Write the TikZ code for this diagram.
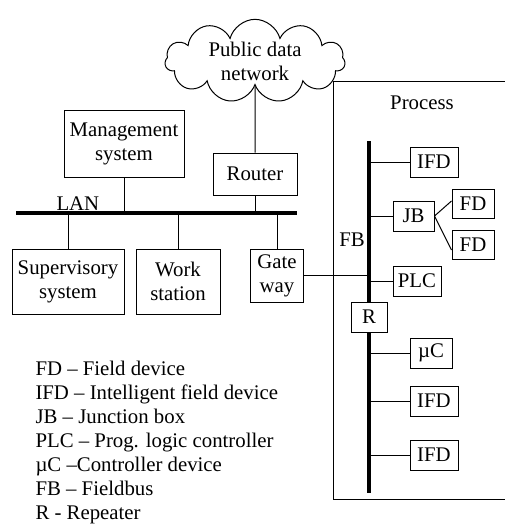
\documentclass[tikz,border=0pt]{standalone}
\usepackage{fontspec}
\setmainfont{Liberation Serif}
\usetikzlibrary{shapes, positioning}
\tikzstyle{block} = [draw, fill=white, rectangle, inner sep=0pt, align=center]
\tikzstyle{bus} = [line width=2pt]

\begin{document}
\begin{tikzpicture}[x=0.5pt, y=-0.5pt, line width=0.5pt, font=\fontsize{10.4}{12}\selectfont]
    \useasboundingbox (0,0) rectangle (504,524);
    % office side
    \node [cloud, draw, cloud puffs=11, aspect=2.3, minimum width=90pt, minimum height=39pt, inner sep=0pt, align=center] (pdn) at (255,61) {Public data\\network};
    \node [block, minimum width=60pt, minimum height=33pt] (mgmt) at (124,144) {Management\\system};
    \node [block, minimum width=42pt, minimum height=21pt] (router) at (255,174) {Router};
    \node [block, minimum width=56pt, minimum height=32.5pt] (sup) at (68,281.5) {Supervisory\\system};
    \node [block, minimum width=42pt, minimum height=32.5pt] (ws) at (178,281.5) {Work\\station};
    \node [block, minimum width=26.5pt, minimum height=26.5pt] (gw) at (277,275.5) {Gate\\way};
    \coordinate (lanL) at (16,213);
    \coordinate (lanR) at (297,213);
    \draw [bus] (lanL) -- (lanR);
    \node [above right=0pt and 19pt of lanL, inner sep=1pt] (lan) {LAN};
    \draw (pdn) -- (router);
    \draw (router) -- (router.south |- lanL);
    \draw (mgmt) -- (mgmt.south |- lanL);
    \draw (sup) -- (sup.north |- lanL);
    \draw (ws) -- (ws.north |- lanL);
    \draw (gw) -- (gw.north |- lanL);
    % process side
    \node [draw, inner sep=0pt, minimum width=95pt, minimum height=209pt, anchor=north west] (process) at (333,81) {};
    \node (proclabel) at (422,103) {Process};
    \coordinate (fbT) at (369,141);
    \coordinate (fbB) at (369,493);
    \draw [bus] (fbT) -- (fbB);
    \node (fb) at (352,240) {FB};
    \node [block, minimum width=18pt, minimum height=15pt] (rep) at (369,317) {R};
    \node [block, minimum width=24pt, minimum height=15pt] (ifdA) at (434,162) {IFD};
    \node [block, minimum width=20.5pt, minimum height=15pt] (jb) at (413.5,216) {JB};
    \node [block, minimum width=21pt, minimum height=14.5pt] (fdA) at (473,203.5) {FD};
    \node [block, minimum width=21pt, minimum height=14.5pt] (fdB) at (473,245) {FD};
    \node [block, minimum width=24pt, minimum height=15pt] (plc) at (417,281) {PLC};
    \node [block, minimum width=21pt, minimum height=15pt] (uc) at (431,353) {µC};
    \node [block, minimum width=24pt, minimum height=15pt] (ifdB) at (434,401) {IFD};
    \node [block, minimum width=24pt, minimum height=15pt] (ifdC) at (434,455) {IFD};
    \foreach \dev in {ifdA, jb, plc, uc, ifdB, ifdC}
        \draw (\dev) -- (\dev.west -| fbT);
    \draw (jb.east) -- ([yshift=1.25pt]fdA.west);
    \draw (jb.east) -- ([yshift=-2.5pt]fdB.west);
    \draw (gw) -- (gw.east -| fbT);
    % legend
    \foreach \txt [count=\i] in {FD -- Field device, IFD -- Intelligent field device, JB -- Junction box, PLC -- Prog. logic controller, µC --Controller device, FB -- Fieldbus, R - Repeater}
        \node [anchor=base west, inner sep=0pt] (leg\i) at (35,{375+24*(\i-1)}) {\txt};
\end{tikzpicture}
\end{document}
